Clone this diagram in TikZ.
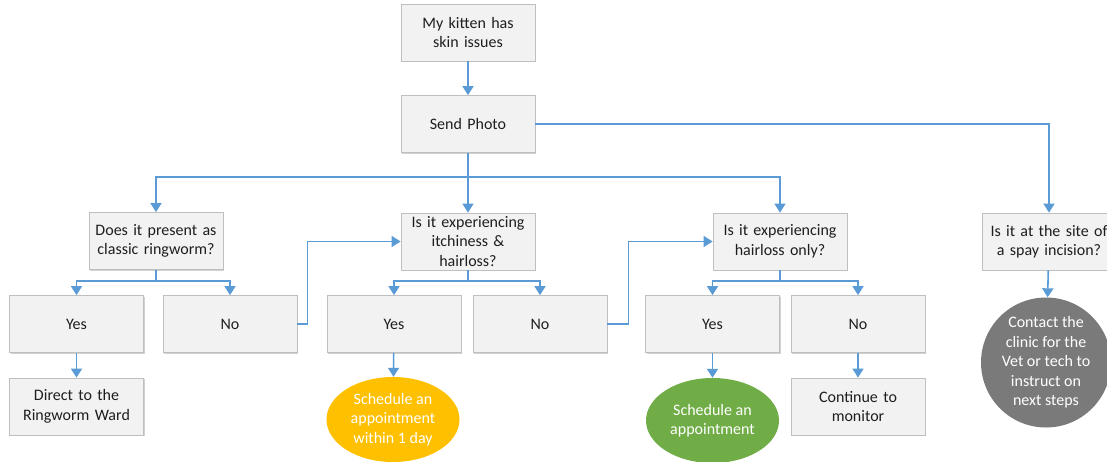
\documentclass[tikz,border=0pt]{standalone}
\usepackage{fontspec}
\setmainfont{Carlito}
\usetikzlibrary{arrows.meta,shapes.geometric,shadows}
\definecolor{boxfill}{HTML}{F2F2F2}
\definecolor{boxline}{HTML}{BFBFBF}
\definecolor{conn}{HTML}{5B9BD5}
\definecolor{ygold}{HTML}{FFC000}
\definecolor{ggreen}{HTML}{70AD47}
\definecolor{ggray}{HTML}{7A7A7A}
\definecolor{txt}{HTML}{1E1E1E}
\tikzset{
  box/.style={draw=boxline, fill=boxfill, line width=0.8pt, minimum width=134pt, minimum height=57pt,
    inner sep=0pt, text width=128pt, align=center, text=txt,
    font=\fontsize{16pt}{19.5pt}\selectfont,
    drop shadow={shadow xshift=1.2pt, shadow yshift=-1.2pt, opacity=0.18, fill=black}},
  oval/.style={ellipse, draw=none, minimum width=133pt, minimum height=85pt, inner sep=0pt,
    align=center, text=white, font=\fontsize{16pt}{19.5pt}\selectfont},
  link/.style={draw=conn, line width=1.6pt, -{Triangle[width=11pt,length=9pt]}},
  plain/.style={draw=conn, line width=1.6pt}
}
\begin{document}
\begin{tikzpicture}[x=1pt,y=-1pt]
\useasboundingbox (0,0) rectangle (1107,461);
\fill[white] (0,0) rectangle (1107,461);
% nodes
\node[box] (top) at (468,32.5) {My kitten has\\skin issues};
\node[box] (send) at (468,124) {Send Photo};
\node[box] (q1) at (156,241) {Does it present as\\classic ringworm?};
\node[box] (q2) at (468,241.5) {Is it experiencing\\itchiness \&\\hairloss?};
\node[box] (q3) at (780,241.5) {Is it experiencing\\hairloss only?};
\node[box] (q4) at (1049,241.5) {Is it at the site of\\a spay incision?};
\node[box] (y1) at (76.5,324) {Yes};
\node[box] (n1) at (230,324) {No};
\node[box] (y2) at (394,324) {Yes};
\node[box] (n2) at (540,324) {No};
\node[box] (y3) at (712.5,324) {Yes};
\node[box] (n3) at (858,324) {No};
\node[box] (d1) at (76.5,406.5) {Direct to the\\Ringworm Ward};
\node[box] (c3) at (858,406.5) {Continue to\\monitor};
\node[oval, fill=ygold] (e2) at (393,419.5) {Schedule an\\appointment\\within 1 day};
\node[oval, fill=ggreen] (e3) at (712.5,420.5) {Schedule an\\appointment};
\node[circle, fill=ggray, minimum size=130pt, inner sep=-4pt, align=center,
  text=white, font=\fontsize{16pt}{19.5pt}\selectfont] (g4) at (1046,362.5)
  {Contact the\\clinic for the\\Vet or tech to\\instruct on\\next steps};
% coordinates
\coordinate (bus) at (468,177);
\coordinate (b1) at (156,281);
\coordinate (b2) at (468,281);
\coordinate (b3) at (780,281);
% connectors
\draw[link] (top) -- (send);
\draw[link] (send) -- (q2);
\draw[link] (bus) -| (q1.north);
\draw[link] (bus) -| (q3.north);
\draw[link] (send.east) -| (q4.north);
\draw[plain] (q1.south) -- (b1);
\draw[link] (b1) -| (y1.north);
\draw[link] (b1) -| (n1.north);
\draw[plain] (q2.south) -- (b2);
\draw[link] (b2) -| (y2.north);
\draw[link] (b2) -| (n2.north);
\draw[plain] (q3.south) -- (b3);
\draw[link] (b3) -| (y3.north);
\draw[link] (b3) -| (n3.north);
\draw[link] (n1.east) -- ++(10,0) |- (q2.west);
\draw[link] (n2.east) -- ++(21,0) |- (q3.west);
\draw[link] (y1) -- (d1);
\draw[link] (y2) -- (e2);
\draw[link] (y3) -- (e3);
\draw[link] (n3) -- (c3);
\draw[link] (q4) -- (g4);
\end{tikzpicture}
\end{document}
